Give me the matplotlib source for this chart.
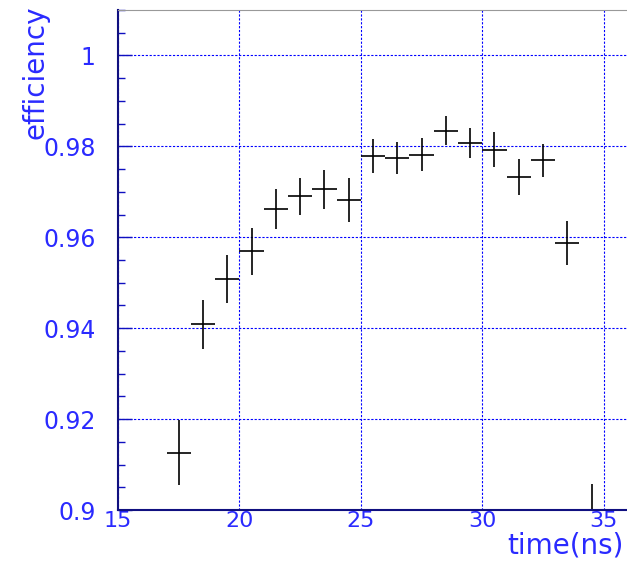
import numpy as np
import matplotlib.pyplot as plt
from matplotlib.ticker import MultipleLocator

# bin centres (ns) and efficiencies
time_ns = [17.5, 18.5, 19.5, 20.5, 21.5, 22.5, 23.5, 24.5, 25.5,
           26.5, 27.5, 28.5, 29.5, 30.5, 31.5, 32.5, 33.5, 34.5]
eff = [0.9126, 0.9409, 0.9509, 0.9569, 0.9662, 0.9690, 0.9706, 0.9682, 0.9779,
       0.9775, 0.9782, 0.9834, 0.9808, 0.9793, 0.9732, 0.9769, 0.9588, 0.8930]
eff_err = [0.0071, 0.0054, 0.0053, 0.0052, 0.0044, 0.0041, 0.0043, 0.0049, 0.0038,
           0.0035, 0.0037, 0.0032, 0.0033, 0.0038, 0.0040, 0.0036, 0.0048, 0.0127]
bin_half = 0.5

blue = '#2a2aff'

fig = plt.figure(figsize=(6.27, 5.65), dpi=100)
ax = fig.add_axes([0.1882, 0.0973, 0.8134, 0.885])

ax.errorbar(time_ns, eff, yerr=eff_err, xerr=bin_half, fmt='none',
            ecolor='black', elinewidth=1.2, capsize=0)

ax.set_xlim(15, 36)
ax.set_ylim(0.9, 1.01)

ax.xaxis.set_major_locator(MultipleLocator(5))
ax.yaxis.set_minor_locator(MultipleLocator(0.005))
ax.set_yticks([0.9, 0.92, 0.94, 0.96, 0.98, 1.0])
ax.set_yticklabels(['0.9', '0.92', '0.94', '0.96', '0.98', '1'])

ax.grid(True, which='major', color='blue', linestyle=(0, (2, 1.5)), linewidth=0.8)

ax.tick_params(axis='y', which='major', direction='in', length=10, width=1,
               color='#1010c0', labelsize=17, labelcolor=blue, pad=16)
ax.tick_params(axis='y', which='minor', direction='in', length=5, width=1,
               color='#1010c0')
ax.tick_params(axis='x', which='major', direction='in', length=0,
               labelsize=16, labelcolor=blue, pad=1)

for s in ['left', 'bottom']:
    ax.spines[s].set_color('#101080')
    ax.spines[s].set_linewidth(1.5)
ax.spines['top'].set_color('#999999')
ax.spines['right'].set_visible(False)

fig.text(0.994, 0.0195, 'time(ns)', color=blue, fontsize=20, ha='right', va='baseline')
fig.text(0.057, 0.99, 'efficiency', color=blue, fontsize=20, ha='center', va='top',
         rotation=90)

fig.savefig('out.png', dpi=100)
